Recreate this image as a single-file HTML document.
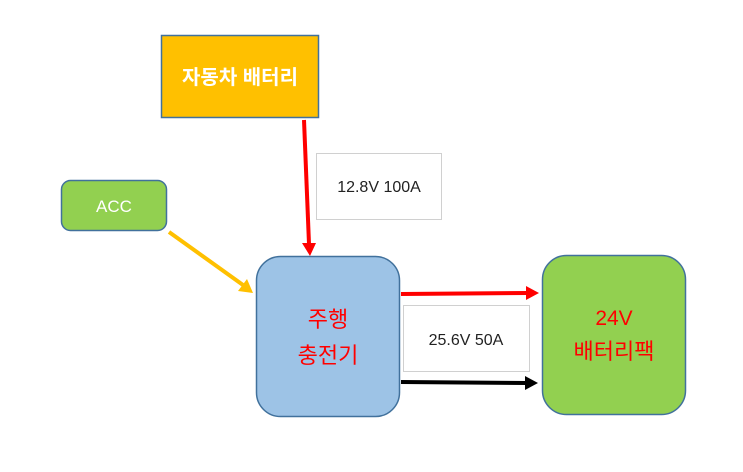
<!DOCTYPE html>
<html><head><meta charset="utf-8"><style>
body{margin:0;background:#fff;width:743px;height:467px;overflow:hidden;font-family:"Liberation Sans","Noto Sans CJK KR",sans-serif}
</style></head><body>
<svg width="743" height="467" xmlns="http://www.w3.org/2000/svg" style="font-family:'Liberation Sans','Noto Sans CJK KR',sans-serif">
<rect x="161.5" y="35.5" width="157" height="82" fill="#ffc000" stroke="#41719c" stroke-width="1.5"/>
<text x="240" y="84" text-anchor="middle" font-size="20" font-weight="bold" fill="#fff">자동차 배터리</text>
<rect x="316.5" y="153.5" width="125" height="66" fill="#fff" stroke="#d0d0d0"/>
<text x="379" y="192" text-anchor="middle" font-size="16" fill="#222">12.8V 100A</text>
<rect x="61.5" y="180.5" width="105" height="50" rx="9" fill="#92d050" stroke="#41719c" stroke-width="1.5"/>
<text x="114" y="212" text-anchor="middle" font-size="17" fill="#fff">ACC</text>
<line x1="304" y1="120" x2="309" y2="244" stroke="#ff0000" stroke-width="4"/>
<polygon points="302,243 316,243 310,256" fill="#ff0000"/>
<line x1="169" y1="232" x2="243" y2="285" stroke="#ffc000" stroke-width="4"/>
<polygon points="238,291 247,279 253,293" fill="#ffc000"/>
<rect x="256.5" y="256.5" width="143" height="160" rx="24" fill="#9dc3e6" stroke="#41719c" stroke-width="1.5"/>
<text x="328" y="327" text-anchor="middle" font-size="22" fill="#ff0000">주행</text>
<text x="328" y="363" text-anchor="middle" font-size="22" fill="#ff0000">충전기</text>
<line x1="401" y1="294" x2="528" y2="293" stroke="#ff0000" stroke-width="4"/>
<polygon points="526,286 539,293 526,300" fill="#ff0000"/>
<rect x="403.5" y="305.5" width="126" height="66" fill="#fff" stroke="#d0d0d0"/>
<text x="466" y="345" text-anchor="middle" font-size="16" fill="#222">25.6V 50A</text>
<line x1="401" y1="382" x2="527" y2="383" stroke="#000" stroke-width="4"/>
<polygon points="525,376 538,383 525,390" fill="#000"/>
<rect x="542.5" y="255.5" width="143" height="159" rx="24" fill="#92d050" stroke="#41719c" stroke-width="1.5"/>
<text x="614" y="325" text-anchor="middle" font-size="21" fill="#ff0000">24V</text>
<text x="614" y="359" text-anchor="middle" font-size="22" fill="#ff0000">배터리팩</text>
</svg>
</body></html>
